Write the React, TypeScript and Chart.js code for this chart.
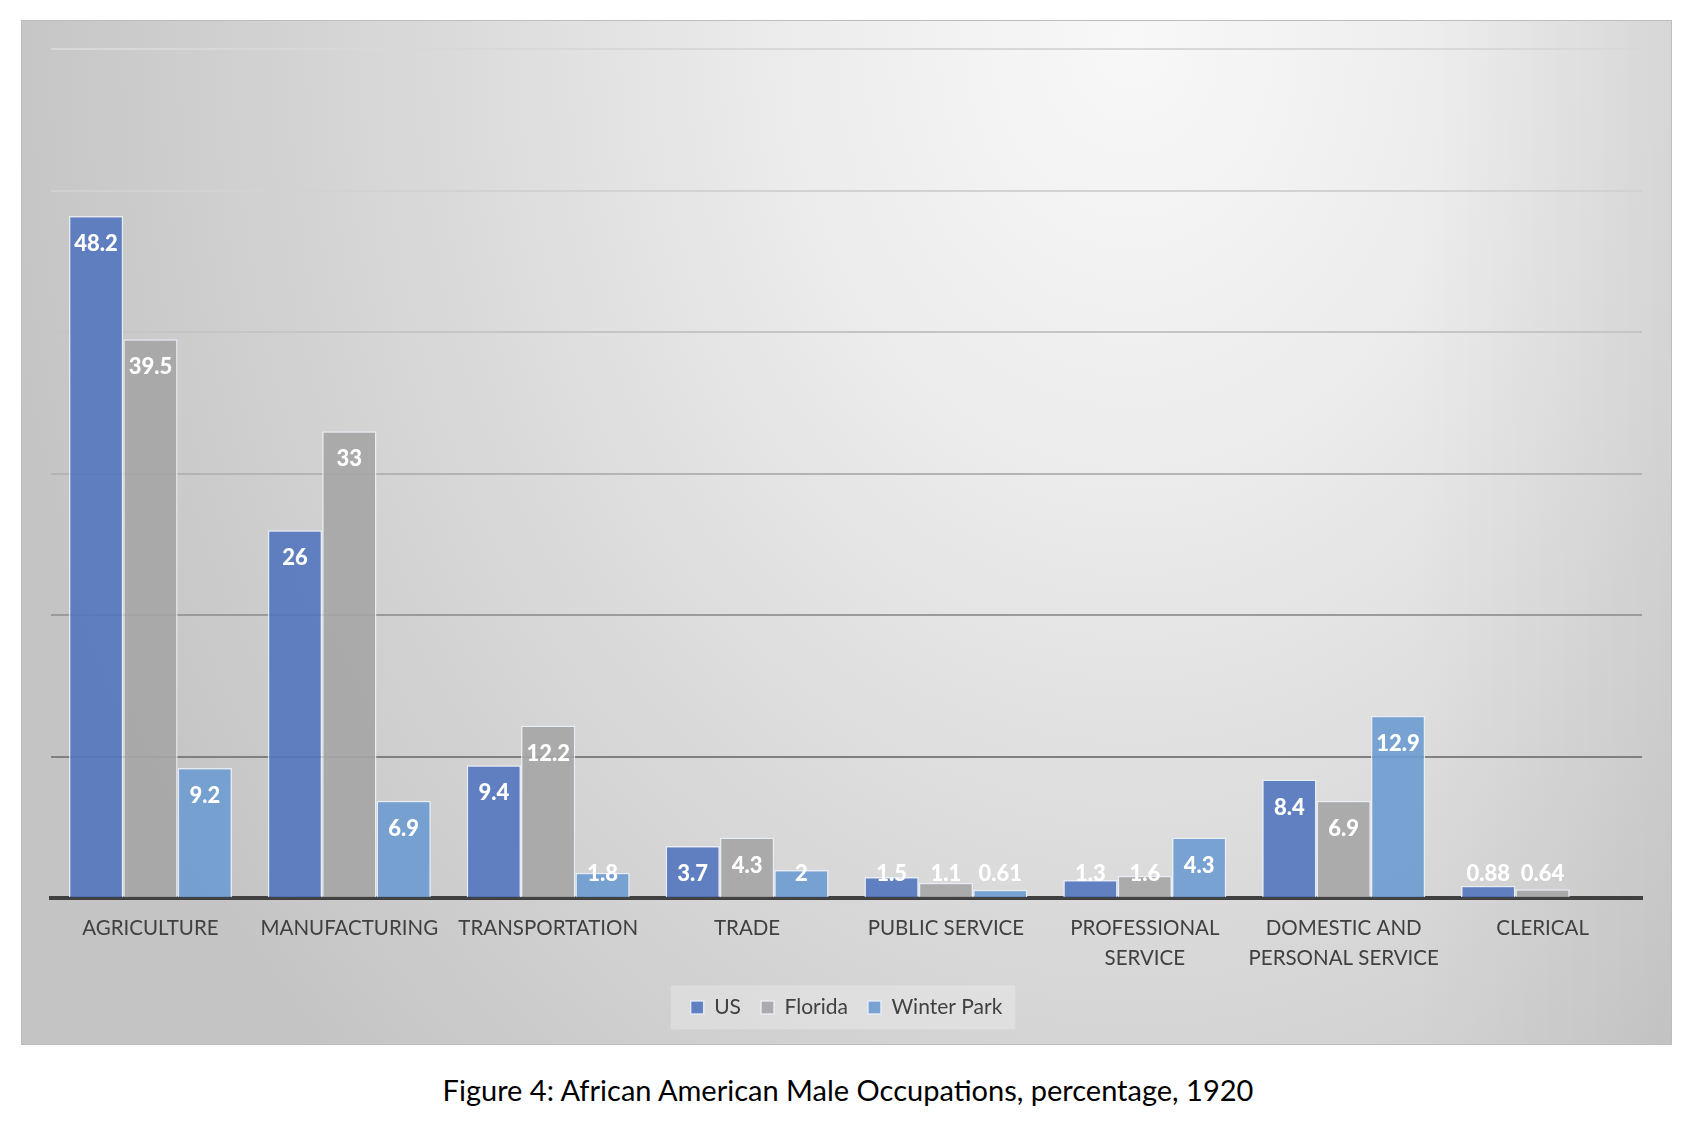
import React, { useEffect, useRef } from "react";
import { Chart, registerables } from "chart.js";
Chart.register(...registerables);

const categories: (string | string[])[] = [
  "AGRICULTURE",
  "MANUFACTURING",
  "TRANSPORTATION",
  "TRADE",
  "PUBLIC SERVICE",
  ["PROFESSIONAL", "SERVICE"],
  ["DOMESTIC AND", "PERSONAL SERVICE"],
  "CLERICAL",
];
const seriesNames = ["US", "Florida", "Winter Park"];
const usValues = [48.2, 26, 9.4, 3.7, 1.5, 1.3, 8.4, 0.88];
const floridaValues = [39.5, 33, 12.2, 4.3, 1.1, 1.6, 6.9, 0.64];
const winterParkValues = [9.2, 6.9, 1.8, 2, 0.61, 4.3, 12.9, null];
const yMin = 0;
const yMax = 60;
const yStep = 10;
const caption = "Figure 4: African American Male Occupations, percentage, 1920";

const seriesColors = ["rgba(83,117,191,0.9)", "rgba(165,165,165,0.9)", "rgba(108,155,208,0.9)"];
const gridColors: Record<number, string> = {
  0: "rgba(0,0,0,0)",
  10: "#808080",
  20: "#9b9b9b",
  30: "#b4b4b4",
  40: "#c5c5c5",
  50: "#d2d2d2",
  60: "#d8d8d8",
};

const W = 1651;
const H = 1025;

const backgroundPlugin = {
  id: "panelBackground",
  beforeDraw(chart: any) {
    const ctx = chart.ctx as CanvasRenderingContext2D;
    const w = chart.width;
    const h = chart.height;
    ctx.save();
    const cx = 1110;
    const cy = 20;
    const sy = 1.25;
    ctx.translate(cx, cy);
    ctx.scale(1, sy);
    const g = ctx.createRadialGradient(0, 0, 0, 0, 0, 1150);
    g.addColorStop(0, "#f8f8f8");
    g.addColorStop(0.3, "#ececec");
    g.addColorStop(0.6, "#dadada");
    g.addColorStop(1, "#c4c4c4");
    ctx.fillStyle = g;
    ctx.fillRect(-cx, -cy / sy, w, h / sy);
    ctx.restore();

    ctx.save();
    const edge = ctx.createLinearGradient(w - 260, 0, w, 0);
    edge.addColorStop(0, "rgba(0,0,0,0)");
    edge.addColorStop(1, "rgba(0,0,0,0.05)");
    ctx.fillStyle = edge;
    ctx.fillRect(w - 260, 0, 260, h);
    ctx.strokeStyle = "#bdbdbd";
    ctx.lineWidth = 1;
    ctx.strokeRect(0.5, 0.5, w - 1, h - 1);

    const lg = chart.legend;
    if (lg && lg.legendHitBoxes && lg.legendHitBoxes.length) {
      const boxes = lg.legendHitBoxes;
      let l = Infinity, r = -Infinity, t = Infinity, b = -Infinity;
      boxes.forEach((bx: any) => {
        l = Math.min(l, bx.left);
        r = Math.max(r, bx.left + bx.width);
        t = Math.min(t, bx.top);
        b = Math.max(b, bx.top + bx.height);
      });
      const mid = (t + b) / 2;
      ctx.fillStyle = "rgba(255,255,255,0.25)";
      ctx.fillRect(l - 20, mid - 22, r - l + 33, 44);
    }
    ctx.restore();
  },
};

const valueLabelPlugin = {
  id: "valueLabels",
  afterDatasetsDraw(chart: any) {
    const ctx = chart.ctx as CanvasRenderingContext2D;
    ctx.save();
    ctx.font = "900 22px Lato";
    ctx.fillStyle = "#ffffff";
    ctx.textAlign = "center";
    ctx.textBaseline = "middle";
    chart.data.datasets.forEach((ds: any, di: number) => {
      const meta = chart.getDatasetMeta(di);
      meta.data.forEach((el: any, i: number) => {
        const v = ds.data[i];
        if (v === null || v === undefined) return;
        const y = Math.min(el.y + 28, el.base - 23);
        ctx.fillText(String(v), el.x, y);
      });
    });
    ctx.restore();
  },
};

export default function App() {
  const ref = useRef<HTMLCanvasElement | null>(null);
  useEffect(() => {
    if (!ref.current) return;
    const seriesData = [usValues, floridaValues, winterParkValues];
    const chart = new Chart(ref.current, {
      type: "bar",
      data: {
        labels: categories as any,
        datasets: seriesNames.map((name, i) => ({
          label: name,
          data: seriesData[i] as any,
          backgroundColor: seriesColors[i],
          borderColor: "rgba(235,240,250,0.85)",
          borderWidth: 1.5,
          barPercentage: 1,
          categoryPercentage: 0.82,
        })),
      },
      options: {
        responsive: false,
        animation: false,
        devicePixelRatio: 1,
        layout: { padding: { left: 30, right: 30, top: 29, bottom: 17 } },
        scales: {
          x: {
            grid: { display: false, drawTicks: false },
            border: { display: true, color: "#404040", width: 4 },
            ticks: {
              color: "#404040",
              font: { family: "Lato", size: 20.5, lineHeight: 1.48 },
              padding: 15,
              maxRotation: 0,
              autoSkip: false,
            },
            afterFit: (scale: any) => {
              scale.height = scale.height - 12;
            },
          },
          y: {
            min: yMin,
            max: yMax,
            ticks: { display: false, stepSize: yStep },
            border: { display: false },
            grid: {
              drawTicks: false,
              lineWidth: 2,
              color: (c: any) => gridColors[c.tick?.value] ?? "#c8c8c8",
            },
          },
        },
        plugins: {
          legend: {
            position: "bottom",
            labels: {
              color: "#404040",
              font: { family: "Lato", size: 21 },
              boxWidth: 13,
              boxHeight: 13,
              padding: 20,
            },
          },
          tooltip: { enabled: false },
        },
      },
      plugins: [backgroundPlugin, valueLabelPlugin],
    });
    return () => chart.destroy();
  }, []);

  return (
    <div style={{ position: "relative", width: 1684, height: 1100 }}>
      <div style={{ position: "absolute", left: 13, top: 12, width: W, height: H }}>
        <canvas ref={ref} width={W} height={H} style={{ width: W, height: H, display: "block" }} />
      </div>
      <div
        style={{
          position: "absolute",
          left: 0,
          top: 1064,
          width: 1680,
          textAlign: "center",
          fontFamily: "Lato",
          fontSize: 29,
          lineHeight: "normal",
          color: "#000",
          whiteSpace: "nowrap",
        }}
      >
        {caption}
      </div>
    </div>
  );
}
